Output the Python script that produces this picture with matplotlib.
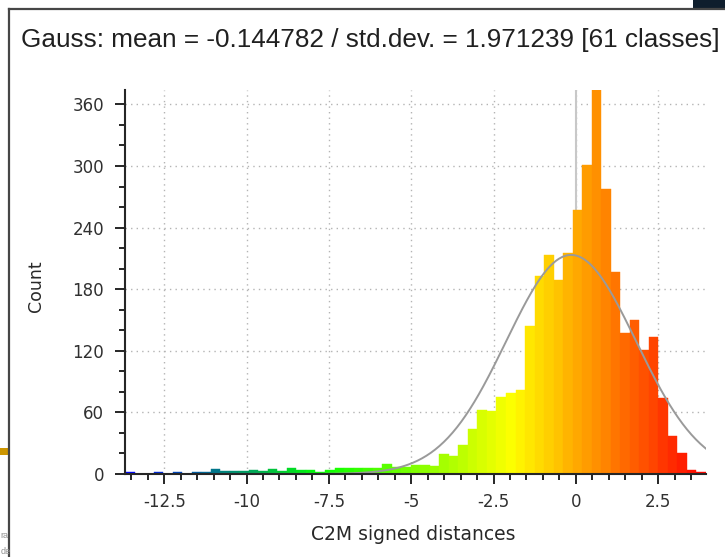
import matplotlib
matplotlib.use("Agg")
import matplotlib.pyplot as plt
import numpy as np
from matplotlib.colors import LinearSegmentedColormap, Normalize
from matplotlib.patches import Rectangle
from matplotlib.lines import Line2D

# histogram of C2M signed distances (61 classes)
x_min, x_max = -13.69, 3.95
counts = [2, 0, 0, 2, 0, 2, 0, 2, 2, 5, 3, 3, 3, 4, 3,
          5, 3, 6, 4, 4, 2, 4, 6, 6, 6, 6, 6, 10, 7, 7,
          9, 9, 8, 19, 18, 28, 44, 62, 61, 75, 79, 82, 144, 193, 213,
          189, 215, 257, 301, 374, 278, 197, 137, 150, 121, 133, 74, 37, 20, 4, 2]
gauss_mean = -0.144782
gauss_std = 1.971239
n_classes = 61
x_ticks = [-12.5, -10, -7.5, -5, -2.5, 0, 2.5]
x_ticklabels = ['-12.5', '-10', '-7.5', '-5', '-2.5', '0', '2.5']
y_ticks = [0, 60, 120, 180, 240, 300, 360]
title = "Gauss: mean = -0.144782 / std.dev. = 1.971239 [61 classes]"

W, H = 725, 557
fig = plt.figure(figsize=(W / 100, H / 100), dpi=100)

def fx(px):
    return px / W

def fy(py):
    return 1 - py / H

# window frame bits of the screenshot
fig.add_artist(Line2D([fx(9), fx(9)], [fy(9), 0], color='#464646', lw=1.6))
fig.add_artist(Line2D([fx(9), 1], [fy(9), fy(9)], color='#464646', lw=1.6))
fig.add_artist(Rectangle((fx(693), fy(8)), fx(32), 8 / H, color='#0f1e2d', lw=0))
fig.add_artist(Rectangle((0, fy(455)), fx(8), 7 / H, color='#cd9600', lw=0))

fig.text(fx(370), fy(40), title, ha='center', va='center',
         family='Liberation Sans', fontsize=18.8, color='#202020')

ax = fig.add_axes([fx(125), fy(474), fx(706) - fx(125), (474 - 90) / H])

edges = np.linspace(x_min, x_max, n_classes + 1)
bw = edges[1] - edges[0]
centers = edges[:-1] + bw / 2
cmap = LinearSegmentedColormap.from_list('bgyr', ['#0000ff', '#00ff00', '#ffff00', '#ff0000'])
norm = Normalize(x_min, x_max)
cols = cmap(norm(centers))

ax.axvline(0, color='#c8c8c8', lw=1.5, zorder=1.5)
ax.bar(edges[:-1], counts, width=bw, align='edge', color=cols,
       edgecolor=cols, linewidth=0.3, zorder=2)

xs = np.linspace(x_min, x_max, 400)
amp = sum(counts) * bw / (gauss_std * np.sqrt(2 * np.pi))
ax.plot(xs, amp * np.exp(-0.5 * ((xs - gauss_mean) / gauss_std) ** 2),
        color='#9a9a9a', lw=1.4, zorder=3)

ax.set_xlim(x_min, x_max)
ax.set_ylim(0, max(counts))
ax.set_xticks(x_ticks)
ax.set_xticklabels(x_ticklabels)
ax.set_xticks(np.arange(-13.5, 4.0, 0.5), minor=True)
ax.set_yticks(y_ticks)
ax.set_yticks(np.arange(0, 375, 20), minor=True)

for s in ['top', 'right']:
    ax.spines[s].set_visible(False)
for s in ['left', 'bottom']:
    ax.spines[s].set_color('#262626')
    ax.spines[s].set_linewidth(1.5)
    ax.spines[s].set_zorder(4)

ax.tick_params(which='major', length=7, width=1.4, color='#262626',
               labelsize=12, labelcolor='#303030', pad=7)
ax.tick_params(axis='y', which='major', pad=8)
ax.tick_params(which='minor', length=4.5, width=1.4, color='#262626')
ax.grid(True, which='major', color='#b4b4b4', linestyle=(0, (1, 3)), lw=1, zorder=0)
ax.set_axisbelow(True)

ax.set_xlabel('C2M signed distances', fontsize=13.5, color='#282828')
ax.set_ylabel('Count', fontsize=12.5, color='#282828')
ax.xaxis.set_label_coords(0.496, -0.133)
ax.yaxis.set_label_coords(-0.137, 0.49)

fig.text(fx(0.5), fy(535), 'ra', ha='left', va='center',
         family='Liberation Sans', fontsize=6.5, color='#909090')
fig.text(fx(0.5), fy(551), 'de', ha='left', va='center',
         family='Liberation Sans', fontsize=6.5, color='#909090')

fig.savefig('out.png', dpi=100)
